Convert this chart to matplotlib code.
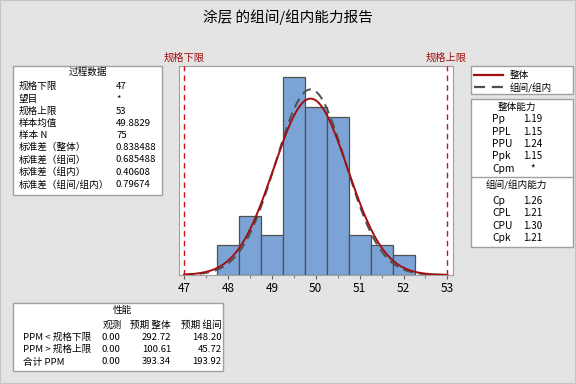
import matplotlib
matplotlib.use("Agg")
import matplotlib.pyplot as plt
from matplotlib.patches import Rectangle
import numpy as np

plt.rcParams['font.family'] = ['Noto Sans CJK SC', 'DejaVu Sans']

# 数据
bin_centers = [48.0, 48.5, 49.0, 49.5, 50.0, 50.5, 51.0, 51.5, 52.0]
counts = [3, 6, 4, 20, 17, 16, 4, 3, 2]
bin_width = 0.5
lsl, usl = 47, 53
mean = 49.8829
n = 75
sd_overall = 0.838488
sd_bw = 0.79674

process_labels = ["规格下限", "望目", "规格上限", "样本均值", "样本 N", "标准差（整体）",
                  "标准差（组间）", "标准差（组内）", "标准差（组间/组内）"]
process_values = ["47", "*", "53", "49.8829", "75", "0.838488", "0.685488", "0.40608", "0.79674"]

overall_labels = ["Pp", "PPL", "PPU", "Ppk", "Cpm"]
overall_values = ["1.19", "1.15", "1.24", "1.15", "*"]
bw_labels = ["Cp", "CPL", "CPU", "Cpk"]
bw_values = ["1.26", "1.21", "1.30", "1.21"]

perf_rows = ["PPM < 规格下限", "PPM > 规格上限", "合计 PPM"]
perf_obs = ["0.00", "0.00", "0.00"]
perf_overall = ["292.72", "100.61", "393.34"]
perf_within = ["148.20", "45.72", "193.92"]

W, H = 576, 384
bg = "#e4e4e4"
red = "#a01010"
box_edge = "#a0a0a0"
fs = 6.9

fig = plt.figure(figsize=(W / 100, H / 100), dpi=100, facecolor=bg)
fig.add_artist(Rectangle((0, 0), 1, 1, transform=fig.transFigure, fill=False,
                         edgecolor="#c4c4c4", linewidth=1.5))


def fx(x):
    return x / W


def fy(y):
    return 1 - y / H


def txt(x, y, s, **kw):
    kw.setdefault("fontsize", fs)
    kw.setdefault("va", "center")
    fig.text(fx(x), fy(y), s, **kw)


def box(x0, y0, x1, y1):
    fig.add_artist(Rectangle((fx(x0), fy(y1)), fx(x1) - fx(x0), fy(y0) - fy(y1),
                             transform=fig.transFigure, facecolor="white",
                             edgecolor=box_edge, linewidth=1))


# 直方图
ax = fig.add_axes([fx(179.3), fy(275), fx(452.7) - fx(179.3), fy(65.7) - fy(275)])
ax.bar(bin_centers, counts, width=bin_width, color="#7ba3d6", edgecolor="#505050", linewidth=0.9, zorder=2)
xs = np.linspace(lsl, usl, 400)
scale = n * bin_width
y_overall = scale / (sd_overall * np.sqrt(2 * np.pi)) * np.exp(-0.5 * ((xs - mean) / sd_overall) ** 2)
y_bw = scale / (sd_bw * np.sqrt(2 * np.pi)) * np.exp(-0.5 * ((xs - mean) / sd_bw) ** 2)
ax.plot(xs, y_bw, color="#505050", linestyle=(0, (5, 3)), linewidth=1.4, zorder=3)
ax.plot(xs, y_overall, color=red, linewidth=1.4, zorder=4)
ax.axvline(lsl, color="#d01010", linestyle=(0, (4, 3)), linewidth=1, zorder=5)
ax.axvline(usl, color="#d01010", linestyle=(0, (4, 3)), linewidth=1, zorder=5)
ax.set_xlim(46.893, 53.12)
ax.set_ylim(0, 21.17)
ax.set_xticks(range(47, 54))
ax.set_xticks(np.arange(47.5, 53, 1), minor=True)
ax.set_yticks([])
ax.tick_params(axis="x", which="major", length=3, color="#606060", labelsize=8.5, pad=2)
ax.tick_params(axis="x", which="minor", length=2, color="#606060")
for s in ax.spines.values():
    s.set_color("#a0a0a0")

txt(288, 17, "涂层 的组间/组内能力报告", fontsize=10.5, ha="center")
txt(184, 58, "规格下限", color=red, ha="center", fontsize=7.4)
txt(446, 58, "规格上限", color=red, ha="center", fontsize=7.4)

# 过程数据
box(13, 66, 162, 195)
txt(87.5, 72.3, "过程数据", ha="center")
for i, (lab, val) in enumerate(zip(process_labels, process_values)):
    y = 86.7 + i * 12.2
    txt(19, y, lab)
    txt(116, y, val)

# 图例
box(471, 66, 572.5, 94.3)
fig.add_artist(plt.Line2D([fx(474), fx(502.7)], [fy(75), fy(75)], color=red, linewidth=1.6))
fig.add_artist(plt.Line2D([fx(474), fx(502.7)], [fy(87.3), fy(87.3)], color="#505050",
                          linewidth=1.6, linestyle=(0, (5, 3))))
txt(509.3, 75, "整体")
txt(509.3, 87.3, "组间/组内")

# 能力
box(471, 99.3, 572.5, 247.3)
fig.add_artist(plt.Line2D([fx(471), fx(572.5)], [fy(177.3), fy(177.3)], color=box_edge, linewidth=1))
txt(516.7, 107.3, "整体能力", ha="center")
for i, (lab, val) in enumerate(zip(overall_labels, overall_values)):
    y = 119.3 + i * 12.4
    txt(492.3, y, lab, fontsize=7.4)
    txt(532.5, y, val, ha="center", fontsize=7.1)
txt(516.7, 185, "组间/组内能力", ha="center")
for i, (lab, val) in enumerate(zip(bw_labels, bw_values)):
    y = 200.7 + i * 12.5
    txt(492.3, y, lab, fontsize=7.4)
    txt(532.5, y, val, ha="center", fontsize=7.1)

# 性能
box(13, 303.3, 223.3, 371)
txt(122, 310.7, "性能", ha="center")
txt(112.3, 325, "观测", ha="center")
txt(171, 325, "预期 整体", ha="right")
txt(221.7, 325, "预期 组间", ha="right")
for i, lab in enumerate(perf_rows):
    y = 337.3 + i * 12.35
    txt(22.7, y, lab)
    txt(120.7, y, perf_obs[i], ha="right")
    txt(171, y, perf_overall[i], ha="right")
    txt(221.7, y, perf_within[i], ha="right")

fig.savefig("out.png", dpi=100, facecolor=bg)
